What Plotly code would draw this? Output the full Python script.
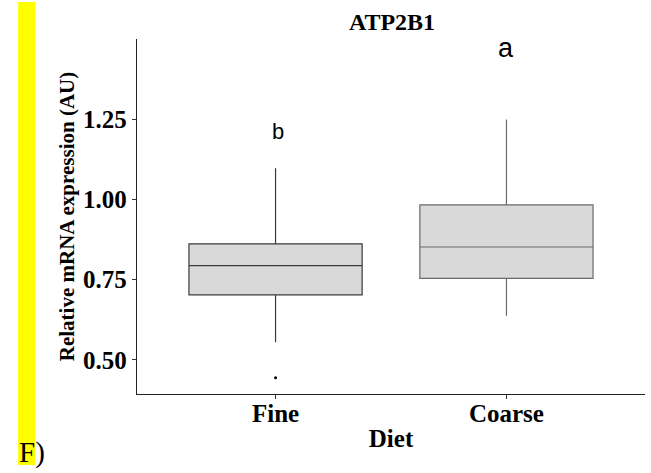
import plotly.graph_objects as go

categories = ["Fine", "Coarse"]
q1 = [0.703, 0.754]
median = [0.794, 0.852]
q3 = [0.862, 0.983]
lower = [0.555, 0.6375]
upper = [1.097, 1.249]
outlier_x = ["Fine"]
outlier_y = [0.445]
letters = ["b", "a"]
letter_y = [1.212, 1.472]
letter_size = [22, 27]
line_colors = ["#3a3a3a", "#6a6a6a"]
y_ticks = [0.50, 0.75, 1.00, 1.25]

serif = "Liberation Serif, Times New Roman, serif"

fig = go.Figure()
for i, c in enumerate(categories):
    fig.add_trace(go.Box(
        x=[c], q1=[q1[i]], median=[median[i]], q3=[q3[i]],
        lowerfence=[lower[i]], upperfence=[upper[i]],
        fillcolor="#d9d9d9", line=dict(color=line_colors[i], width=1.2),
        width=0.75, whiskerwidth=0, boxpoints=False, showlegend=False,
    ))
fig.add_trace(go.Scatter(x=outlier_x, y=outlier_y, mode="markers",
                         marker=dict(color="black", size=3), showlegend=False))

for i, c in enumerate(categories):
    fig.add_annotation(x=c, y=letter_y[i], text=letters[i], showarrow=False,
                       xshift=2 if i == 0 else 0,
                       font=dict(family="Liberation Sans, Arial", size=letter_size[i], color="black"))

# yellow highlight bar and panel label
fig.add_shape(type="rect", xref="paper", yref="paper", x0=-0.234, x1=-0.2008,
              y0=-0.2, y1=1.104, fillcolor="#ffff00", line=dict(width=0), layer="below")
fig.add_annotation(xref="paper", yref="paper", x=-0.236, y=-0.166, xanchor="left",
                   yanchor="middle", text="F)", showarrow=False,
                   font=dict(family=serif, size=29, color="black"))

fig.update_layout(
    width=651, height=473,
    margin=dict(l=137, r=6, t=39, b=79),
    paper_bgcolor="white", plot_bgcolor="white",
    boxmode="overlay",
    title=dict(text="ATP2B1", x=0.502, xref="paper", y=0.955, yref="container",
               xanchor="center", yanchor="middle",
               font=dict(family=serif, size=24, color="black", weight="bold")),
    xaxis=dict(type="category", categoryarray=categories, range=[-0.6, 1.6],
               showline=True, linecolor="#222", linewidth=1.3, showgrid=False,
               ticks="outside", ticklen=4, tickcolor="#333", zeroline=False,
               ticklabelstandoff=-7,
               tickfont=dict(family=serif, size=25, color="black", weight="bold"),
               title=dict(text="Diet", standoff=3,
                          font=dict(family=serif, size=25, color="black", weight="bold"))),
    yaxis=dict(range=[0.394, 1.50], tickvals=y_ticks, ticktext=[f"{v:.2f}" for v in y_ticks],
               showline=True, linecolor="#222", linewidth=1.3, showgrid=False,
               ticks="outside", ticklen=4, tickcolor="#333", zeroline=False,
               tickfont=dict(family=serif, size=25, color="black", weight="bold"),
               title=dict(text="Relative mRNA expression (AU)", standoff=2,
                          font=dict(family=serif, size=21, color="black", weight="bold"))),
)

fig.write_html("out.html")
